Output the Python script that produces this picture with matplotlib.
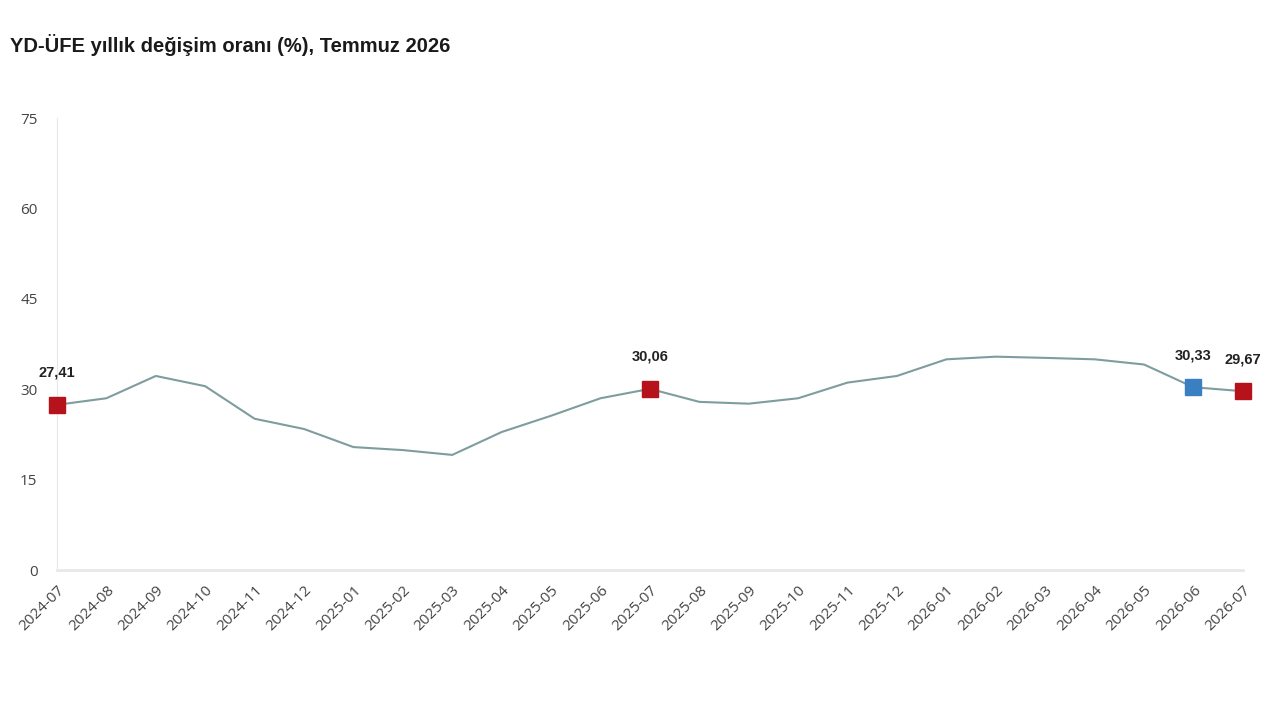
import matplotlib
matplotlib.use("Agg")
import matplotlib.pyplot as plt

plt.rcParams['font.family'] = ['Open Sans', 'DejaVu Sans']

months = ['2024-07', '2024-08', '2024-09', '2024-10', '2024-11', '2024-12',
          '2025-01', '2025-02', '2025-03', '2025-04', '2025-05', '2025-06',
          '2025-07', '2025-08', '2025-09', '2025-10', '2025-11', '2025-12',
          '2026-01', '2026-02', '2026-03', '2026-04', '2026-05', '2026-06',
          '2026-07']
rates = [27.41, 28.5, 32.2, 30.5, 25.1, 23.4,
         20.4, 19.9, 19.1, 22.9, 25.6, 28.5,
         30.06, 27.9, 27.6, 28.5, 31.1, 32.2,
         34.96, 35.4, 35.2, 34.96, 34.1, 30.33,
         29.67]

# highlighted points: (index, label, colour)
highlights = [(0, '27,41', '#b5121b'),
              (12, '30,06', '#b5121b'),
              (23, '30,33', '#3a7fc1'),
              (24, '29,67', '#b5121b')]

fig = plt.figure(figsize=(12.8, 7.2), dpi=100)
ax = fig.add_axes([0.0445, 0.2083, 0.9265, 0.6278])

x = list(range(len(months)))
ax.plot(x, rates, color='#7f9c9e', linewidth=1.5, zorder=2)

for i, lab, col in highlights:
    ax.plot(x[i], rates[i], marker='s', markersize=12, color=col,
            markeredgecolor=col, linestyle='none', zorder=3, clip_on=False)
    ax.annotate(lab, (x[i], rates[i]), xytext=(0, 18), textcoords='offset points',
                ha='center', va='bottom', fontsize=10.5, fontweight='bold',
                color='#222222', family=['Liberation Sans', 'DejaVu Sans'])

ax.set_xlim(0, len(months) - 1)
ax.set_ylim(0, 75)
ax.set_yticks([0, 15, 30, 45, 60, 75])
ax.set_xticks(x)
ax.set_xticklabels(months, rotation=45, ha='right', rotation_mode='anchor')

ax.tick_params(axis='both', length=0, colors='#444444', labelsize=11)
ax.tick_params(axis='y', pad=14)
ax.tick_params(axis='x', pad=9)

for s in ['top', 'right']:
    ax.spines[s].set_visible(False)
ax.spines['left'].set_color('#e8e8e8')
ax.spines['bottom'].set_color('#e8e8e8')
ax.spines['bottom'].set_linewidth(2)

fig.text(0.008, 0.938, 'YD-ÜFE yıllık değişim oranı (%), Temmuz 2026',
         fontsize=14.5, fontweight='bold', color='#1a1a1a',
         family=['Liberation Sans', 'DejaVu Sans'], va='center')

fig.savefig('out.png', dpi=100, facecolor='white')
